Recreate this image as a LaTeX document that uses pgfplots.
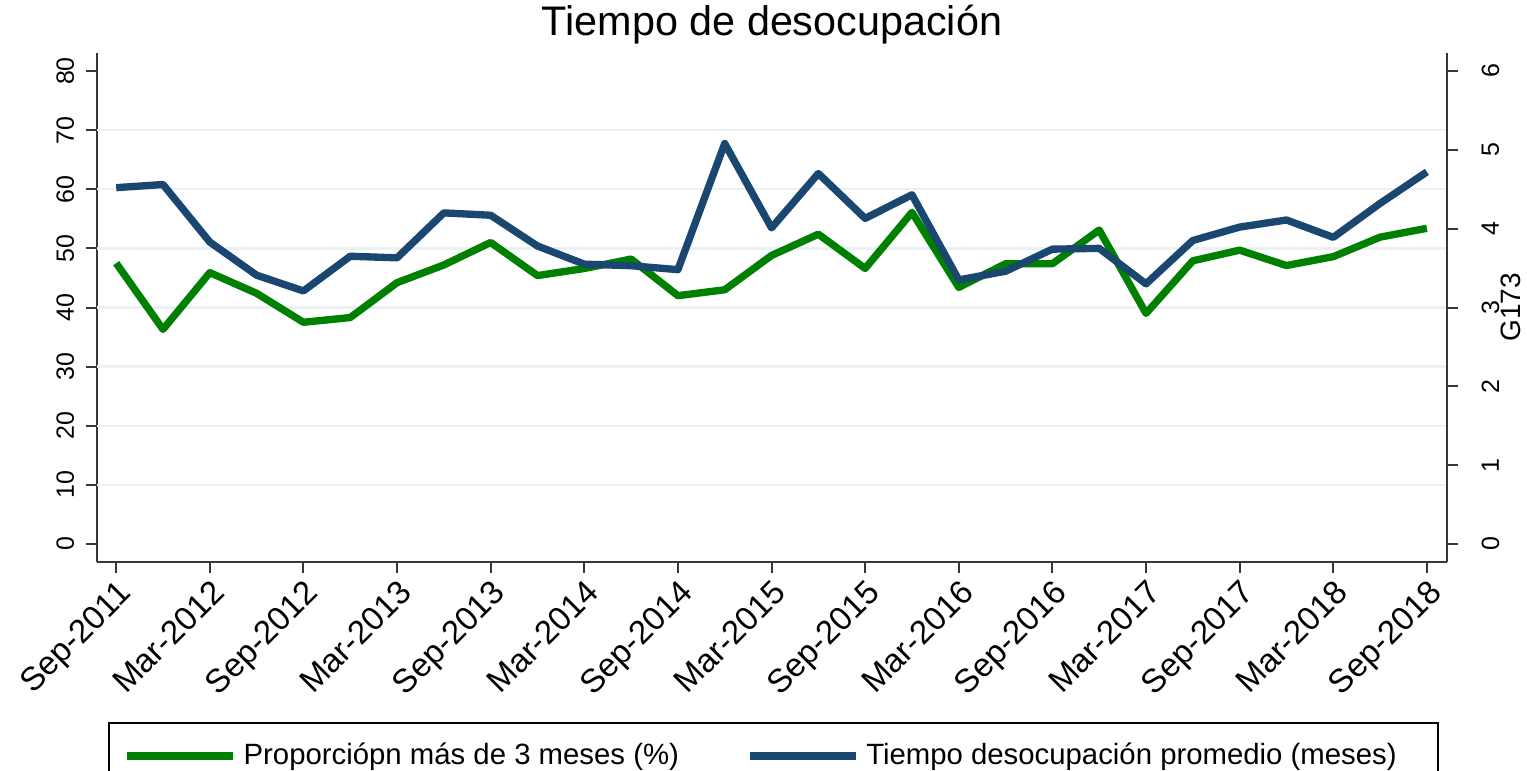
\documentclass[border=0pt]{standalone}
\usepackage{fontspec}
\setmainfont{Liberation Sans}
\usepackage{pgfplots}
\usepackage{pgfplotstable}
\pgfplotsset{compat=1.18}

\definecolor{sgreen}{RGB}{0,128,0}
\definecolor{snavy}{RGB}{26,71,111}
\definecolor{sgrid}{RGB}{234,241,243}
\definecolor{saxis}{RGB}{55,55,55}

% quarterly, Sep-2011 (0) to Sep-2018 (28)
\pgfplotstableread{
i  prop  tiempo
0  47.5  4.52
1  36.3  4.56
2  45.9  3.83
3  42.4  3.41
4  37.5  3.21
5  38.3  3.65
6  44.2  3.63
7  47.2  4.20
8  51.0  4.17
9  45.4  3.78
10 46.6  3.55
11 48.2  3.53
12 42.0  3.48
13 43.0  5.08
14 48.8  4.01
15 52.4  4.70
16 46.6  4.13
17 56.1  4.43
18 43.4  3.35
19 47.4  3.46
20 47.4  3.74
21 53.1  3.75
22 39.0  3.30
23 47.9  3.85
24 49.7  4.02
25 47.1  4.11
26 48.6  3.89
27 51.9  4.32
28 53.4  4.72
}\datos

\begin{document}
\begin{tikzpicture}
\useasboundingbox (-29.1pt,-62.4pt) rectangle (429pt,168.6pt);
\pgfplotsset{
  base/.style={
    scale only axis, width=405pt, height=152.7pt,
    at={(0,0)}, anchor=south west,
    xmin=-0.41, xmax=28.43,
    tick align=outside, major tick length=3.3pt,
    every tick/.style={saxis, line width=0.6pt},
    axis line style={saxis, line width=0.6pt},
    /pgf/number format/assume math mode=true,
    yticklabel style={font=\fontsize{7.5}{8}\selectfont, rotate=90},
  }
}
\begin{axis}[base,
  axis y line*=left, axis x line*=bottom,
  ymin=-3.05, ymax=83.05,
  ytick={0,10,...,80},
  yticklabel style={anchor=south},
  extra y ticks={10,20,...,70}, extra y tick labels={},
  extra y tick style={grid=major, major grid style={sgrid, line width=0.7pt}, major tick length=0pt},
  xtick={0,2,...,28},
  xticklabels={Sep-2011,Mar-2012,Sep-2012,Mar-2013,Sep-2013,Mar-2014,Sep-2014,Mar-2015,Sep-2015,Mar-2016,Sep-2016,Mar-2017,Sep-2017,Mar-2018,Sep-2018},
  xticklabel style={font=\fontsize{9.9}{11}\selectfont, rotate=45, anchor=north east, inner sep=1pt},
  title={Tiempo de desocupación},
  every axis title/.style={font=\fontsize{12.4}{14}\selectfont, at={(axis description cs:0.5,1)}, anchor=center, yshift=8.4pt},
]
\addplot[sgreen, line width=2.2pt, line join=round] table[x=i, y=prop] {\datos};
\end{axis}
\begin{axis}[base,
  axis y line*=right, axis x line=none,
  ymin=-0.228, ymax=6.228,
  ytick={0,1,...,6},
  yticklabel style={anchor=north},
  yticklabel shift=3.6pt,
  ylabel={G173},
  every axis y label/.style={font=\fontsize{8.4}{9}\selectfont, at={(rel axis cs:1,0.5)}, xshift=19.2pt, anchor=center, rotate=90},
  legend style={at={(axis description cs:0.00815,-0.3143)}, anchor=north west,
    draw=black, line width=0.6pt, inner xsep=4.2pt, inner ysep=4pt,
    font=\fontsize{8.8}{10}\selectfont, legend columns=2,
    /tikz/every even column/.append style={column sep=18pt}},
  legend image code/.code={\draw[#1, line width=2.4pt] (0pt,0pt) -- (31.8pt,0pt);},
  legend cell align=left,
]
\addlegendimage{sgreen}
\addlegendentry{Proporciópn más de 3 meses (\%)}
\addplot[snavy, line width=2.2pt, line join=round] table[x=i, y=tiempo] {\datos};
\addlegendentry{Tiempo desocupación promedio (meses)\rule{6.3pt}{0pt}}
\end{axis}
\end{tikzpicture}
\end{document}
